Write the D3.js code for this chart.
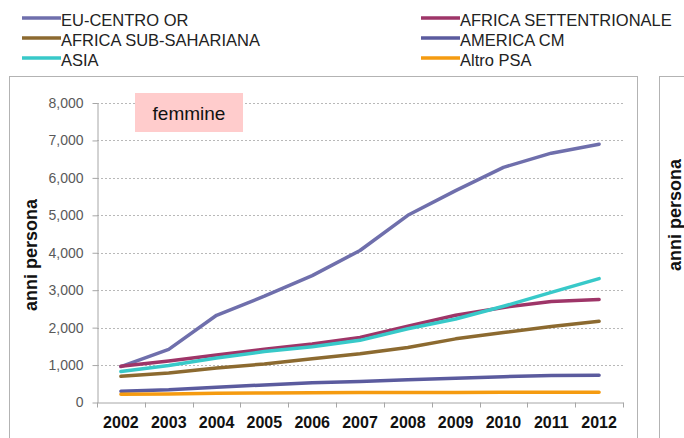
<!DOCTYPE html>
<html>
<head>
<meta charset="utf-8">
<script src="https://cdn.jsdelivr.net/npm/d3@7/dist/d3.min.js"></script>
<style>
  html, body { margin: 0; padding: 0; background: #fff; }
  svg { display: block; font-family: Arial, "Liberation Sans", sans-serif; }
</style>
</head>
<body>
<svg id="chart" width="684" height="438"></svg>
<script>
// categories and series (anni persona, femmine)
const years = ['2002', '2003', '2004', '2005', '2006', '2007', '2008', '2009', '2010', '2011', '2012'];
const euCentroOr = [960, 1420, 2330, 2840, 3390, 4060, 5000, 5660, 6280, 6660, 6900];
const africaSettentrionale = [970, 1110, 1270, 1420, 1560, 1740, 2040, 2330, 2540, 2700, 2750];
const africaSubSahariana = [700, 790, 920, 1030, 1170, 1300, 1470, 1700, 1870, 2030, 2170];
const americaCm = [300, 340, 410, 470, 530, 560, 610, 650, 690, 720, 730];
const asia = [830, 990, 1190, 1360, 1490, 1660, 1970, 2230, 2570, 2940, 3310];
const altroPsa = [220, 230, 245, 255, 262, 265, 268, 270, 272, 273, 275];
const yTicks = [0, 1000, 2000, 3000, 4000, 5000, 6000, 7000, 8000];

const series = [
  { name: 'EU-CENTRO OR', values: euCentroOr, color: '#6f6fac' },
  { name: 'AFRICA SETTENTRIONALE', values: africaSettentrionale, color: '#9e3568' },
  { name: 'AFRICA SUB-SAHARIANA', values: africaSubSahariana, color: '#8c6a30' },
  { name: 'AMERICA CM', values: americaCm, color: '#5b5b9e' },
  { name: 'ASIA', values: asia, color: '#38c9c9' },
  { name: 'Altro PSA', values: altroPsa, color: '#f59b10' }
];

const svg = d3.select('#chart');

// panel frames
svg.append('rect')
  .attr('x', 9.5).attr('y', 76.5)
  .attr('width', 628).attr('height', 400)
  .attr('fill', 'none').attr('stroke', '#b3b3b3');
svg.append('rect')
  .attr('x', 659.5).attr('y', 76.5)
  .attr('width', 100).attr('height', 400)
  .attr('fill', 'none').attr('stroke', '#b3b3b3');

// scales
const x = d3.scaleBand().domain(years).range([97, 623]).padding(0);
const y = d3.scaleLinear().domain([0, 8000]).range([402.5, 103]);
const cx = d => x(d) + x.bandwidth() / 2;

// gridlines
svg.append('g')
  .selectAll('line')
  .data(yTicks.filter(t => t > 0))
  .join('line')
  .attr('x1', 97).attr('x2', 623)
  .attr('y1', d => Math.round(y(d)) + 0.5)
  .attr('y2', d => Math.round(y(d)) + 0.5)
  .attr('stroke', '#b8b8b8')
  .attr('stroke-dasharray', '2,2');

// y axis
const yAxis = d3.axisLeft(y)
  .tickValues(yTicks)
  .tickFormat(d3.format(','))
  .tickSize(5)
  .tickPadding(9)
  .tickSizeOuter(0);

const yG = svg.append('g')
  .attr('transform', 'translate(97.5,0)')
  .call(yAxis);
yG.select('.domain').attr('stroke', '#a6a6a6');
yG.selectAll('.tick line').attr('stroke', '#a6a6a6');
yG.selectAll('text')
  .attr('fill', '#595959')
  .style('font-size', '14px');

// x axis: labels centred, ticks on category boundaries
const xAxis = d3.axisBottom(x).tickSize(0).tickPadding(14);
const xG = svg.append('g')
  .attr('transform', 'translate(0,402.5)')
  .call(xAxis);
xG.select('.domain').attr('stroke', '#a6a6a6');
xG.selectAll('text')
  .attr('fill', '#111')
  .style('font-size', '16px')
  .style('font-weight', 'bold');
xG.selectAll('.bound')
  .data(years.concat(['end']))
  .join('line')
  .attr('class', 'bound')
  .attr('x1', (d, i) => Math.round(i < years.length ? x(d) : x.range()[1]) + 0.5)
  .attr('x2', (d, i) => Math.round(i < years.length ? x(d) : x.range()[1]) + 0.5)
  .attr('y1', 0).attr('y2', 5)
  .attr('stroke', '#a6a6a6');

// axis titles
svg.append('text')
  .attr('transform', 'translate(37,255) rotate(-90)')
  .attr('text-anchor', 'middle')
  .style('font-size', '18px')
  .style('font-weight', 'bold')
  .attr('fill', '#111')
  .text('anni persona');
svg.append('text')
  .attr('transform', 'translate(681,215) rotate(-90)')
  .attr('text-anchor', 'middle')
  .style('font-size', '18px')
  .style('font-weight', 'bold')
  .attr('fill', '#111')
  .text('anni persona');

// lines
const line = d3.line()
  .x((d, i) => cx(years[i]))
  .y(d => y(d))
  .curve(d3.curveLinear);

svg.append('g')
  .selectAll('path')
  .data(series)
  .join('path')
  .attr('d', d => line(d.values))
  .attr('fill', 'none')
  .attr('stroke', d => d.color)
  .attr('stroke-width', 3.5)
  .attr('stroke-linecap', 'round')
  .attr('stroke-linejoin', 'round');

// "femmine" label box
svg.append('rect')
  .attr('x', 135).attr('y', 93)
  .attr('width', 108).attr('height', 39)
  .attr('fill', '#ffcccc');
svg.append('text')
  .attr('x', 189).attr('y', 113)
  .attr('text-anchor', 'middle')
  .attr('dominant-baseline', 'central')
  .style('font-size', '19px')
  .attr('fill', '#111')
  .text('femmine');

// legend: two columns, three rows
const legendOrder = ['EU-CENTRO OR', 'AFRICA SETTENTRIONALE', 'AFRICA SUB-SAHARIANA', 'AMERICA CM', 'ASIA', 'Altro PSA'];
const colX = [22, 421];
const rowY = [18, 38, 58];

legendOrder.forEach((name, i) => {
  const s = series.find(d => d.name === name);
  const col = i % 2;
  const row = Math.floor(i / 2);
  const g = svg.append('g')
    .attr('transform', `translate(${colX[col]},${rowY[row]})`);
  g.append('line')
    .attr('x1', 0).attr('x2', 39)
    .attr('y1', 0).attr('y2', 0)
    .attr('stroke', s.color)
    .attr('stroke-width', 3.5);
  g.append('text')
    .attr('x', 39)
    .attr('y', 2)
    .attr('dominant-baseline', 'central')
    .style('font-size', '16.5px')
    .attr('fill', '#222')
    .text(s.name);
});
</script>
</body>
</html>
